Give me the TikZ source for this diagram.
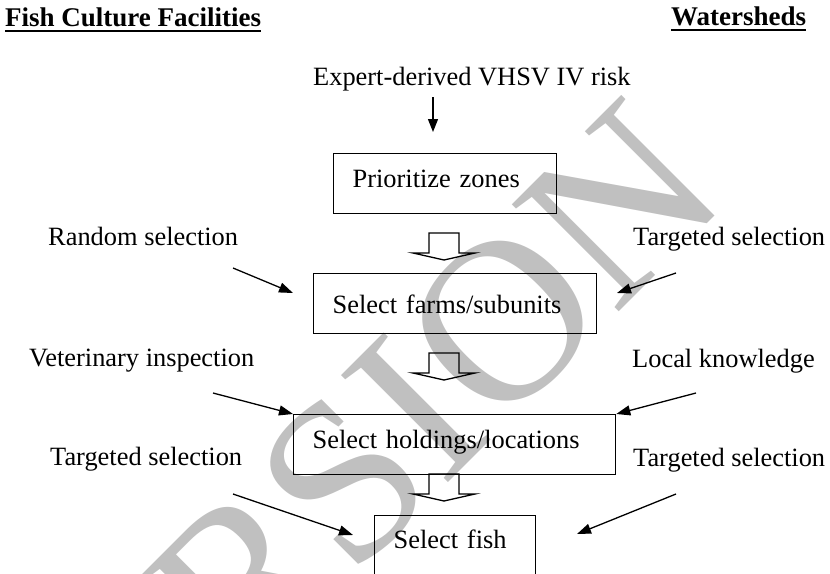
\documentclass[tikz,border=0pt]{standalone}
\usepackage{fontspec}
\setmainfont{Liberation Serif}
\usetikzlibrary{arrows.meta}
\definecolor{wm}{RGB}{192,192,192}
\begin{document}
\begin{tikzpicture}[x=1pt,y=-1pt,
  lbl/.style={anchor=base west, inner sep=0pt, font=\fontsize{26.4}{30}\selectfont},
  head/.style={anchor=base west, inner sep=0pt, font=\fontsize{27}{30}\selectfont\bfseries},
  stepbox/.style={draw, line width=1.3pt, anchor=north west, inner ysep=0pt, inner xsep=19pt, align=left, font=\fontsize{26.4}{30}\selectfont},
  conn/.style={line width=1.3pt, -{Triangle[length=14pt,width=10pt]}},
  hollowarrow/.pic={\draw[line width=1.3pt, line join=miter] (-15,0) -- (15,0) -- (15,20) -- (31,20) -- (0,27) -- (-31,20) -- (-15,20) -- cycle;}
]
\useasboundingbox (0,0) rectangle (830,573);
% watermark
\begin{scope}
\clip (0,0) rectangle (830,573);
\node[anchor=base west, inner sep=0pt, text=wm, font=\fontsize{231}{240}\selectfont, rotate=45, transform shape] (wmark) at (25,906) {VERSION};
\end{scope}
% headings
\node[head] (fcf) at (5,26) {Fish Culture Facilities};
\draw[line width=1.8pt] ([yshift=-5pt]fcf.base west) -- ([yshift=-5pt]fcf.base east);
\node[head] (ws) at (671,25) {Watersheds};
\draw[line width=1.8pt] ([yshift=-5pt]ws.base west) -- ([yshift=-5pt]ws.base east);
% top input
\node[lbl] (expert) at (313,85) {Expert-derived VHSV IV risk};
\coordinate (e0) at (433,97);
\coordinate (e1) at (433,132);
\draw[line width=1.3pt, -{Triangle[length=13pt,width=10pt]}] (e0) -- (e1);
% boxes
\node[stepbox, text width=185pt, text height=34pt, text depth=26pt] (b1) at (333,153) {Prioritize zones};
\node[stepbox, text width=245pt, text height=40pt, text depth=20pt] (b2) at (313,273) {Select farms/subunits};
\node[stepbox, text width=284pt, text height=34pt, text depth=26pt] (b3) at (293,414) {Select holdings/locations};
\node[stepbox, text width=123pt, text height=33pt, text depth=40pt] (b4) at (374,515) {Select fish};
% block arrows
\pic (ba1) at (444,233) {hollowarrow};
\pic (ba2) at (444,353) {hollowarrow};
\pic (ba3) at (444,474) {hollowarrow};
% side labels
\node[lbl] (rand) at (48,245) {Random selection};
\node[lbl] (targ1) at (633,245) {Targeted selection};
\node[lbl] (vet) at (29,366) {Veterinary inspection};
\node[lbl] (local) at (632,367) {Local knowledge};
\node[lbl] (targ2) at (50,465) {Targeted selection};
\node[lbl] (targ3) at (633,466) {Targeted selection};
% side arrows
\coordinate (l1s) at (233,268); \coordinate (l1e) at (293,293);
\coordinate (r1s) at (676,273); \coordinate (r1e) at (617,293);
\coordinate (l2s) at (213,393);
\coordinate (r2s) at (696,393);
\coordinate (l3s) at (233,494); \coordinate (l3e) at (353,535);
\coordinate (r3s) at (676,494); \coordinate (r3e) at (577,534);
\draw[conn] (l1s) -- (l1e);
\draw[conn] (r1s) -- (r1e);
\draw[conn] (l2s) -- (b3.north west);
\draw[conn] (r2s) -- (b3.north east);
\draw[conn] (l3s) -- (l3e);
\draw[conn] (r3s) -- (r3e);
\end{tikzpicture}
\end{document}
